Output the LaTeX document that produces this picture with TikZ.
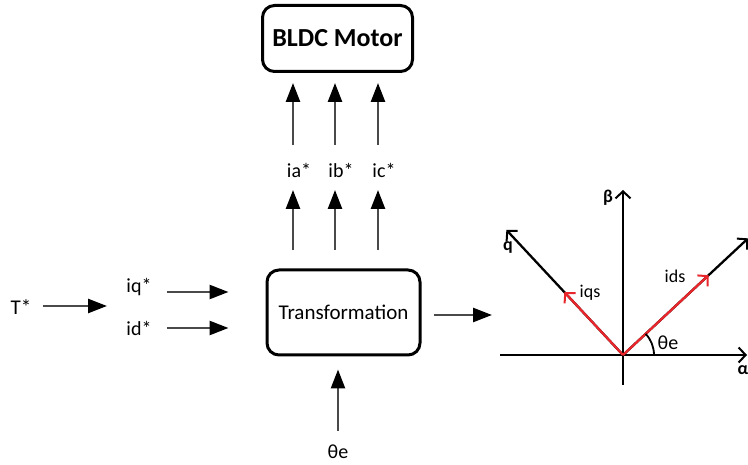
\documentclass[tikz,border=0pt]{standalone}
\usepackage{fontspec}
\setmainfont{Carlito}
\usepackage{xcolor}
\usepackage{tikz}
\usetikzlibrary{calc,arrows.meta,positioning}
\definecolor{shaft}{HTML}{4A4A4A}
\definecolor{vecred}{HTML}{E8262B}
\tikzset{
  ar/.style={-{Triangle[length=19pt,width=14pt,color=black]},line width=2.6pt,shaft},
  vec/.style={-{Straight Barb[length=7pt,width=15pt,line width=2pt]},line width=2.3pt},
  box/.style={draw,line width=3pt,rounded corners=12pt,align=center,inner sep=0pt},
  lbl/.style={font=\fontsize{20}{24}\selectfont,inner sep=0pt},
  axlbl/.style={font=\bfseries\fontsize{18}{21}\selectfont,inner sep=0pt}
}
\begin{document}
\begin{tikzpicture}[x=1pt,y=1pt]
\useasboundingbox (0,0) rectangle (748,464);
\clip (0,0) rectangle (748,464);
% blocks
\node[box,minimum width=150pt,minimum height=66pt,font=\bfseries\fontsize{26}{30}\selectfont] (motor) at (337.5,425.5) {BLDC Motor};
\node[box,minimum width=153pt,minimum height=85pt,font=\fontsize{21}{25}\selectfont] (trans) at (343.5,151.5) {Transformation};
% phase currents
\foreach \x/\n in {293/a,335/b,378/c}{
  \node[lbl] (i\n) at ($(\x,294)+(6,0)$) {i\n*};
  \coordinate (lo\n) at (\x,214); \coordinate (lt\n) at (\x,274);
  \coordinate (uo\n) at (\x,319); \coordinate (ut\n) at (\x,381);
  \draw[ar] (lo\n) -- (lt\n);
  \draw[ar] (uo\n) -- (ut\n);
}
% inputs
\node[lbl,font=\fontsize{21}{25}\selectfont] (tq) at (21,157) {T*};
\node[lbl] (iq) at (139,177) {iq*};
\node[lbl] (id) at (139,136) {id*};
\node[lbl] (th) at (338,12) {θe};
\coordinate (tqe) at (107,158);
\draw[ar,shorten <=11pt] (tq.east |- tqe) -- (tqe);
\draw[ar,shorten <=15pt,shorten >=37pt] ([yshift=-5pt]iq.east) -- ([yshift=-5pt]iq.east -| trans.west);
\draw[ar,shorten <=15pt,shorten >=37pt] (id.east) -- (id.east -| trans.west);
\draw[ar,shorten <=14pt,shorten >=13pt] (th.north -| 338,0) -- (338,0 |- trans.south);
\coordinate (out) at (492,149);
\draw[ar,shorten <=12pt] (trans.east |- out) -- (out);
% vector diagram
\coordinate (o) at (623,109);
\coordinate (al0) at (500,109); \coordinate (al1) at (747,109);
\coordinate (be0) at (623,79); \coordinate (be1) at (623,274);
\draw[vec] (al0) -- (al1);
\draw[vec] (be0) -- (be1);
\draw[vec] (o) -- ++(133:171) coordinate (qax);
\draw[vec] (o) -- ++(43:171) coordinate (dax);
\draw[vec,vecred] (o) -- ++(133:86) coordinate (iqs);
\draw[vec,vecred] (o) -- ++(43:117) coordinate (ids);
\draw[line width=1.8pt] ($(o)+(31,0)$) arc (0:43:31);
\node[axlbl] (beta) at (608,266) {β};
\node[axlbl] (qlbl) at (508,217) {q};
\node[axlbl] (alpha) at (743,94) {α};
\node[lbl,font=\fontsize{18}{21}\selectfont] (iqsl) at (590,171) {iqs};
\node[lbl,font=\fontsize{18}{21}\selectfont] (idsl) at (675,188) {ids};
\node[lbl] (thl) at (668,121) {θe};
\end{tikzpicture}
\end{document}
